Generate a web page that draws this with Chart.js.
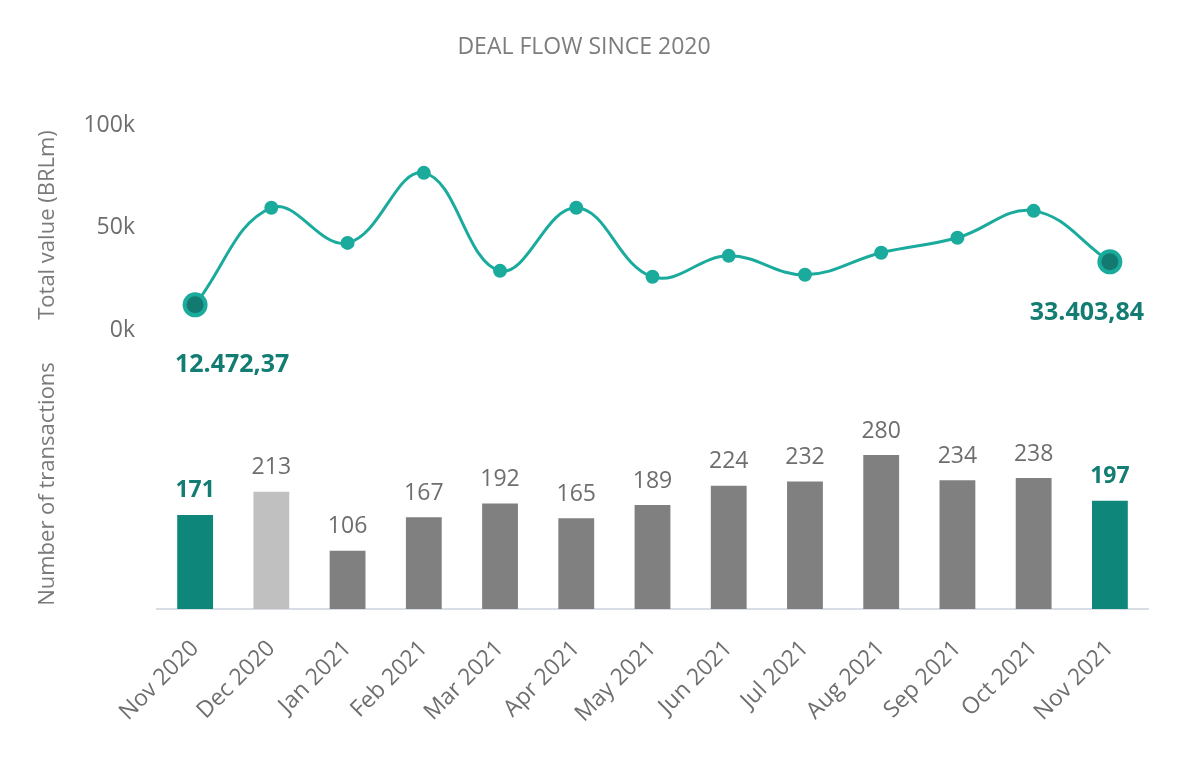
<!DOCTYPE html>
<html>
<head>
<meta charset="utf-8">
<title>Deal flow since 2020</title>
<script src="https://cdn.jsdelivr.net/npm/chart.js@4.4.1/dist/chart.umd.min.js"></script>
<style>
  body { margin: 0; background: #fff; }
  canvas { display: block; }
</style>
</head>
<body>
<canvas id="dealChart" width="1200" height="759"></canvas>
<script>
const months = ['Nov 2020', 'Dec 2020', 'Jan 2021', 'Feb 2021', 'Mar 2021', 'Apr 2021', 'May 2021',
                'Jun 2021', 'Jul 2021', 'Aug 2021', 'Sep 2021', 'Oct 2021', 'Nov 2021'];
const totalValue = [12472.37, 59700, 42600, 76700, 29000, 59700, 26100, 36300, 27100, 37800, 45100, 58200, 33403.84];
const transactions = [171, 213, 106, 167, 192, 165, 189, 224, 232, 280, 234, 238, 197];
const valueTicks = [0, 50000, 100000];

const FONT = '"Open Sans", "Noto Sans", sans-serif';
const teal = '#1aab9d';
const tealDark = '#0e877a';
const tealText = '#137d73';
const greyText = '#6e6e6e';

function formatBRL(v) {
    const parts = v.toFixed(2).split('.');
    return parts[0].replace(/\B(?=(\d{3})+(?!\d))/g, '.') + ',' + parts[1];
}

function isEnd(i) {
    return i === 0 || i === months.length - 1;
}

// value labels, end-point labels and the two axis titles
const dealLabels = {
    id: 'dealLabels',
    afterDatasetsDraw(chart) {
        const ctx = chart.ctx;
        ctx.save();
        ctx.textAlign = 'center';
        ctx.textBaseline = 'middle';

        const bars = chart.getDatasetMeta(1).data;
        bars.forEach((bar, i) => {
            ctx.font = (isEnd(i) ? 'bold ' : '') + '23px ' + FONT;
            ctx.fillStyle = isEnd(i) ? tealText : greyText;
            ctx.fillText(transactions[i], bar.x, bar.y - 24);
        });

        const pts = chart.getDatasetMeta(0).data;
        const last = pts.length - 1;
        ctx.font = 'bold 25px ' + FONT;
        ctx.fillStyle = tealText;
        ctx.fillText(formatBRL(totalValue[0]), pts[0].x + 37, pts[0].y + 60);
        ctx.fillText(formatBRL(totalValue[last]), pts[last].x - 23, pts[last].y + 51);

        ctx.font = '22px ' + FONT;
        ctx.fillStyle = '#7a7a7a';
        [['Total value (BRLm)', 225], ['Number of transactions', 484]].forEach(([text, y]) => {
            ctx.save();
            ctx.translate(48, y);
            ctx.rotate(-Math.PI / 2);
            ctx.fillText(text, 0, 0);
            ctx.restore();
        });
        ctx.restore();
    }
};

const ctx = document.getElementById('dealChart').getContext('2d');
new Chart(ctx, {
    type: 'bar',
    data: {
        labels: months,
        datasets: [{
            type: 'line',
            label: 'Total value (BRLm)',
            data: totalValue,
            yAxisID: 'y',
            borderColor: teal,
            borderWidth: 3,
            tension: 0.4,
            fill: false,
            pointRadius: c => isEnd(c.dataIndex) ? 10.5 : 6,
            pointBorderWidth: c => isEnd(c.dataIndex) ? 4 : 2,
            pointBackgroundColor: c => isEnd(c.dataIndex) ? '#127a70' : teal,
            pointBorderColor: teal
        }, {
            label: 'Number of transactions',
            data: transactions,
            yAxisID: 'y2',
            categoryPercentage: 1,
            barPercentage: 0.47,
            backgroundColor: c => isEnd(c.dataIndex) ? tealDark : (c.dataIndex === 1 ? '#c0c0c0' : '#808080')
        }]
    },
    options: {
        responsive: false,
        animation: false,
        layout: {
            padding: { top: 24, left: 20, right: 52, bottom: 0 }
        },
        scales: {
            x: {
                grid: { display: false, drawTicks: false },
                border: { display: true, color: '#d9dde6', width: 2 },
                afterFit: scale => { scale.height = 150; },
                ticks: {
                    minRotation: 45,
                    maxRotation: 45,
                    padding: 26,
                    color: greyText,
                    font: { size: 23, family: FONT }
                }
            },
            y: {
                position: 'left',
                min: -135600,
                max: 100000,
                afterBuildTicks: scale => { scale.ticks = valueTicks.map(v => ({ value: v })); },
                afterFit: scale => { scale.width = 137; },
                grid: { display: false, drawTicks: false },
                border: { display: false },
                ticks: {
                    padding: 22,
                    color: greyText,
                    font: { size: 23, family: FONT },
                    callback: v => (v / 1000) + 'k'
                }
            },
            y2: {
                display: false,
                min: 0,
                max: 880
            }
        },
        plugins: {
            legend: { display: false },
            tooltip: { enabled: false },
            title: {
                display: true,
                text: 'DEAL FLOW SINCE 2020',
                color: '#7d7d7d',
                font: { size: 23, weight: 'normal', family: FONT, lineHeight: 1.2 },
                padding: { top: 10, bottom: 63.4 }
            }
        }
    },
    plugins: [dealLabels]
});
</script>
</body>
</html>
